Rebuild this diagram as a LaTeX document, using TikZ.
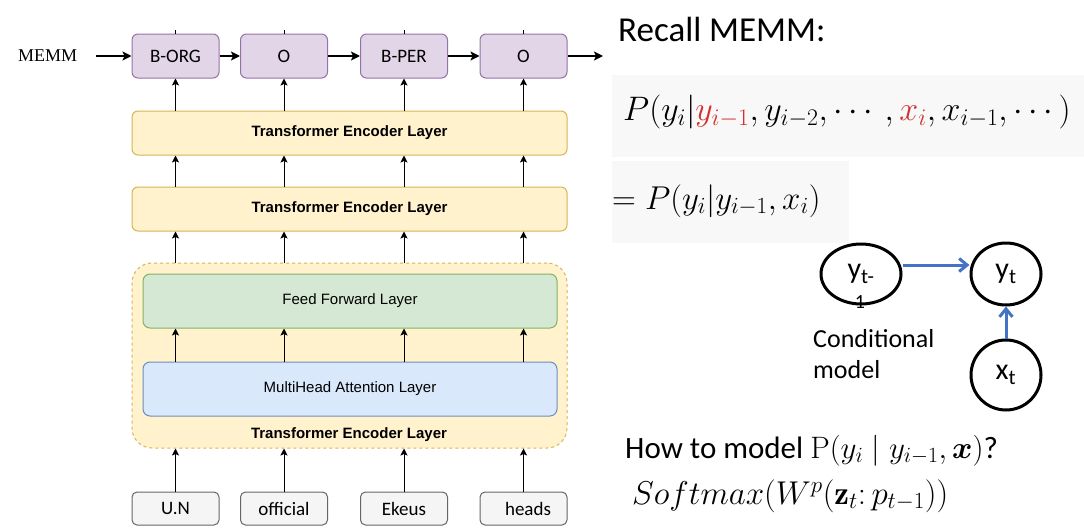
\RequirePackage{fix-cm}
\documentclass[tikz,border=0pt]{standalone}
\usepackage{amsmath}
\usepackage{amssymb}
\usepackage{fontspec}
\usetikzlibrary{arrows.meta}
\usetikzlibrary{shapes.geometric}
\newfontfamily\helvfont{Liberation Sans}
\newfontfamily\calfont{Carlito}
\newfontfamily\timesfont{Liberation Serif}
\definecolor{tagfill}{HTML}{E1D5E7}
\definecolor{tagline}{HTML}{9673A6}
\definecolor{encfill}{HTML}{FFF2CC}
\definecolor{encline}{HTML}{D6B656}
\definecolor{fffill}{HTML}{D5E8D4}
\definecolor{ffline}{HTML}{82B366}
\definecolor{attfill}{HTML}{DAE8FC}
\definecolor{attline}{HTML}{6C8EBF}
\definecolor{wordfill}{HTML}{F5F5F5}
\definecolor{wordline}{HTML}{666666}
\definecolor{eqback}{HTML}{F8F8F8}
\definecolor{eqred}{HTML}{D32F2F}
\definecolor{linkblue}{HTML}{4472C4}
\tikzset{tagbox/.style={draw=tagline, fill=tagfill, line width=1pt, rounded corners=6pt,
  minimum width=87pt, minimum height=44pt, inner sep=0pt, font=\calfont\fontsize{19}{22}\selectfont}}
\tikzset{wordbox/.style={draw=wordline, fill=wordfill, line width=1pt, rounded corners=5pt,
  minimum width=87pt, minimum height=33pt, inner sep=0pt, font=\calfont\fontsize{19}{22}\selectfont}}
\tikzset{encbox/.style={draw=encline, fill=encfill, line width=1pt, rounded corners=6pt,
  minimum width=435pt, minimum height=44pt, inner sep=0pt, font=\helvfont\bfseries\fontsize{15}{18}\selectfont}}
\tikzset{sublayer/.style={line width=1pt, rounded corners=7pt,
  minimum width=414pt, minimum height=54pt, inner sep=0pt, font=\helvfont\fontsize{15}{18}\selectfont}}
\tikzset{blob/.style={ellipse, draw, line width=3pt, inner sep=0pt, font=\calfont\fontsize{30}{30}\selectfont}}
\tikzset{arr/.style={-{Stealth[length=7pt, width=7pt, inset=1.5pt]}, line width=1pt}}
\tikzset{thickarr/.style={-{Stealth[length=9pt, width=9pt, inset=2pt]}, line width=2.5pt}}
\tikzset{blobarr/.style={-{Straight Barb[length=8pt, width=13pt]}, linkblue, line width=3pt}}

\begin{document}
\begin{tikzpicture}[x=1pt, y=-1pt]
      \fill [white] (0, 0) rectangle (1084, 530);
      \useasboundingbox (0, 0) rectangle (1084, 530);

      % left: tagger on top of the encoder
      \node [anchor=base west, inner sep=0pt, font=\timesfont\fontsize{18}{20}\selectfont] (memm) at (18, 61) {MEMM};
      \coordinate (memmstart) at (96, 56);
      \coordinate (memmend) at (603, 56);

      \node [tagbox] (borg) at (175.5, 56) {B-ORG};
      \node [tagbox] (oa) at (284, 56) {O};
      \node [tagbox] (bper) at (404, 56) {B-PER};
      \node [tagbox] (ob) at (523.5, 56) {O};

      \node [encbox] (enca) at (349.5, 133) {Transformer Encoder Layer};
      \node [encbox] (encb) at (349.5, 209) {Transformer Encoder Layer};

      \node [draw=encline, fill=encfill, line width=1pt, dash pattern=on 3pt off 3pt, rounded corners=20pt,
        minimum width=435pt, minimum height=185pt] (encwrap) at (349.5, 355.5) {};
      \node [sublayer, draw=ffline, fill=fffill] (ffl) at (350, 301) {Feed Forward Layer};
      \node [sublayer, draw=attline, fill=attfill] (attn) at (350, 389) {MultiHead Attention Layer};
      \node [anchor=base, inner sep=0pt, font=\helvfont\bfseries\fontsize{15}{18}\selectfont] (wraplab) at (349, 438) {Transformer Encoder Layer};

      \node [wordbox] (un) at (175.5, 508.5) {U.N};
      \node [wordbox] (offc) at (284, 508.5) {official\hspace{17pt}};
      \node [wordbox] (ekeus) at (404, 508.5) {Ekeus};
      \node [wordbox] (heads) at (523.5, 508.5) {\hspace{9pt}heads};

      \draw [thickarr] (memmstart) -- (borg.west);
      \draw [thickarr] (borg.east) -- (oa.west);
      \draw [thickarr] (oa.east) -- (bper.west);
      \draw [thickarr] (bper.east) -- (ob.west);
      \draw [thickarr] (ob.east) -- (memmend);

      \draw [line width=1pt] (borg.north) -- ++(0, -4);
      \draw [line width=1pt] (oa.north) -- ++(0, -4);
      \draw [line width=1pt] (bper.north) -- ++(0, -4);
      \draw [line width=1pt] (ob.north) -- ++(0, -4);

      \draw [arr] (enca.north -| borg) -- (borg.south);
      \draw [arr] (enca.north -| oa) -- (oa.south);
      \draw [arr] (enca.north -| bper) -- (bper.south);
      \draw [arr] (enca.north -| ob) -- (ob.south);

      \draw [arr] (encb.north -| un) -- (enca.south -| un);
      \draw [arr] (encb.north -| offc) -- (enca.south -| offc);
      \draw [arr] (encb.north -| ekeus) -- (enca.south -| ekeus);
      \draw [arr] (encb.north -| heads) -- (enca.south -| heads);

      \draw [arr] (encwrap.north -| un) -- (encb.south -| un);
      \draw [arr] (encwrap.north -| offc) -- (encb.south -| offc);
      \draw [arr] (encwrap.north -| ekeus) -- (encb.south -| ekeus);
      \draw [arr] (encwrap.north -| heads) -- (encb.south -| heads);

      \draw [arr] (attn.north -| un) -- (ffl.south -| un);
      \draw [arr] (attn.north -| offc) -- (ffl.south -| offc);
      \draw [arr] (attn.north -| ekeus) -- (ffl.south -| ekeus);
      \draw [arr] (attn.north -| heads) -- (ffl.south -| heads);

      \draw [arr] (un.north) -- (encwrap.south -| un);
      \draw [arr] (offc.north) -- (encwrap.south -| offc);
      \draw [arr] (ekeus.north) -- (encwrap.south -| ekeus);
      \draw [arr] (heads.north) -- (encwrap.south -| heads);

      % right: MEMM recap
      \node [anchor=base west, inner sep=0pt, font=\calfont\fontsize{35}{40}\selectfont] (recall) at (618, 41) {Recall MEMM:};

      \fill [eqback] (612, 75) rectangle (1084, 157);
      \fill [eqback] (612, 161) rectangle (849, 243);
      \node [anchor=base west, inner sep=0pt, font=\fontsize{34}{40}\selectfont] (eqfull) at (623, 120)
        {$P(y_i|\textcolor{eqred}{y_{i-1}}, y_{i-2}, \cdots, \textcolor{eqred}{x_i}, x_{i-1}, \cdots)$};
      \node [anchor=base west, inner sep=0pt, font=\fontsize{33}{40}\selectfont] (eqshort) at (612, 209)
        {$=P(y_i|y_{i-1}, x_i)$};

      \node [blob, minimum width=80pt, minimum height=60pt] (yprev) at (861, 274) {y\textsubscript{t-}};
      \node [inner sep=0pt, font=\calfont\fontsize{20}{20}\selectfont] (yprevtail) at (860, 302) {1};
      \node [blob, minimum width=70pt, minimum height=62pt] (ynow) at (1006, 274) {y\textsubscript{t}};
      \node [blob, minimum width=70pt, minimum height=70pt] (xnow) at (1006, 375) {x\textsubscript{t}};

      \draw [blobarr] ([yshift=9pt]yprev.east) -- ([yshift=9pt]ynow.west);
      \draw [blobarr] (xnow.north) -- (ynow.south);

      \node [anchor=base west, inner sep=0pt, align=left, font=\calfont\fontsize{26}{31}\selectfont] (condlab) at (813, 378) {Conditional\\model};

      \node [anchor=base west, inner sep=0pt, font=\calfont\fontsize{31}{36}\selectfont] (howq) at (625, 458)
        {How to model $\mathrm{P}(y_i \mid y_{i-1}, \boldsymbol{x})$?};
      \node [anchor=base west, inner sep=0pt, font=\fontsize{33}{36}\selectfont] (softeq) at (632, 504)
        {$Softmax(W^p(\mathbf{z}_t{:}\,p_{t-1}))$};
    \end{tikzpicture}
\end{document}
